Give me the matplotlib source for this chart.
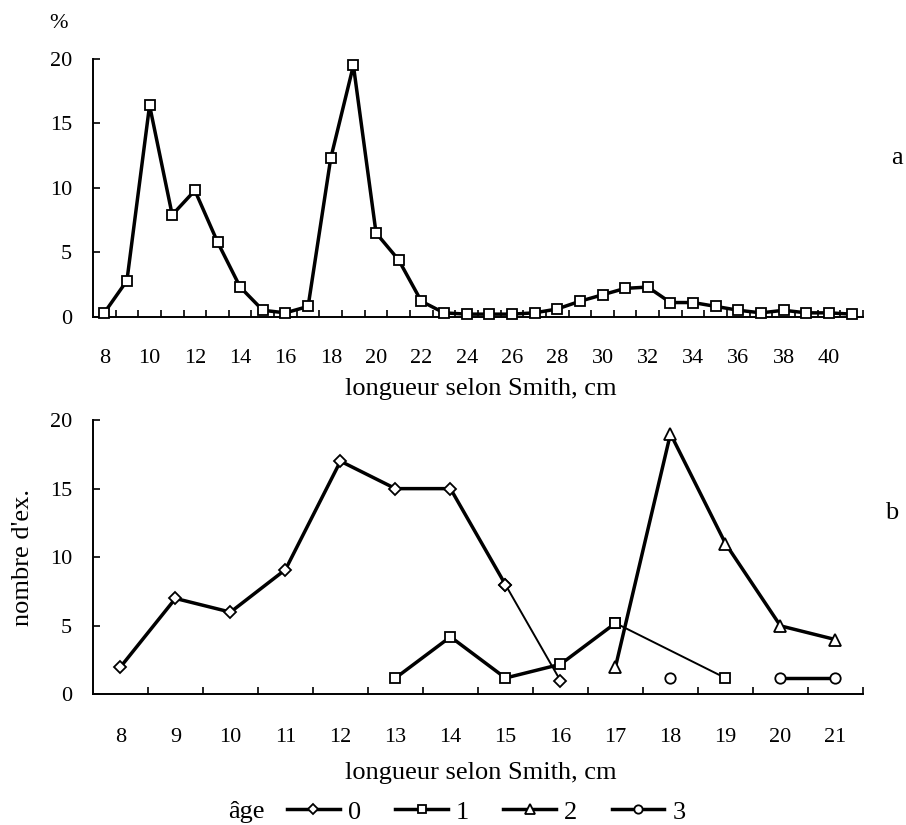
import numpy as np
import matplotlib
matplotlib.use("Agg")
import matplotlib.pyplot as plt

plt.rcParams['font.family'] = ['Liberation Serif', 'DejaVu Serif']

# panel a : distribution en % par classe de longueur
lengths_a = list(range(8, 42))
pct_a = [0.3, 2.8, 16.4, 7.9, 9.8, 5.8, 2.3, 0.5, 0.3, 0.8, 12.3, 19.5, 6.5, 4.4,
         1.2, 0.3, 0.2, 0.2, 0.2, 0.3, 0.6, 1.2, 1.7, 2.2, 2.3, 1.1, 1.1, 0.8,
         0.5, 0.3, 0.5, 0.3, 0.3, 0.2]

# panel b : nombre d'exemplaires par âge
lengths_b = list(range(8, 22))
nan = np.nan
age0 = [2, 7, 6, 9.1, 17, 15, 15, 8, 1, nan, nan, nan, nan, nan]
age1 = [nan, nan, nan, nan, nan, 1.2, 4.2, 1.2, 2.2, 5.2, nan, 1.2, nan, nan]
age2 = [nan, nan, nan, nan, nan, nan, nan, nan, nan, 2, 19, 11, 5, 4]
age3 = [nan, nan, nan, nan, nan, nan, nan, nan, nan, nan, 1.2, nan, 1.2, 1.2]
age_labels = ['0', '1', '2', '3']

TICK_FS = 16
LABEL_FS = 19
LW = 2.5

fig = plt.figure(figsize=(9.06, 8.25), dpi=100)
ax_a = fig.add_axes([0.1026, 0.6161, 0.8499, 0.3124])
ax_b = fig.add_axes([0.1026, 0.1582, 0.8499, 0.3327])


def style_axis(ax, n, labels, xpad):
    for s in ['top', 'right']:
        ax.spines[s].set_visible(False)
    for s in ['left', 'bottom']:
        ax.spines[s].set_linewidth(1.4)
    ax.set_xlim(0, n)
    ax.set_ylim(0, 20)
    ax.set_yticks([0, 5, 10, 15, 20])
    ax.tick_params(axis='y', direction='in', length=5, width=1.2, pad=15,
                   labelsize=TICK_FS)
    # ticks between categories, labels at centers
    ax.set_xticks(np.arange(1, n + 1))
    ax.set_xticklabels([])
    ax.tick_params(axis='x', which='major', direction='in', length=5, width=1.2)
    ax.set_xticks(np.arange(n) + 0.5, minor=True)
    ax.set_xticklabels(labels, minor=True)
    ax.tick_params(axis='x', which='minor', length=0, pad=xpad, labelsize=TICK_FS)


xa = np.arange(len(lengths_a)) + 0.5
ax_a.plot(xa, pct_a, color='black', lw=LW, marker='s', ms=6.5, mfc='white',
          mec='black', mew=1.3, clip_on=False, zorder=3)
style_axis(ax_a, len(lengths_a),
           [str(v) if v % 2 == 0 else '' for v in lengths_a], 23)

xb = np.arange(len(lengths_b)) + 0.5


def draw(ax, y, marker, ms, label, thin_from=None):
    y = np.array(y, dtype=float)
    ok = ~np.isnan(y)
    xs, ys = xb[ok], y[ok]
    kw = dict(color='black', marker=marker, ms=ms, mfc='white', mec='black',
              mew=1.3, clip_on=False, zorder=3)
    if thin_from is None:
        # no line across gaps
        h, = ax.plot(xb, y, lw=LW, label=label, **kw)
    else:
        h, = ax.plot(xs[:thin_from + 1], ys[:thin_from + 1], lw=LW, label=label, **kw)
        ax.plot(xs[thin_from:], ys[thin_from:], lw=1.4, **kw)
    return h


h0 = draw(ax_b, age0, 'D', 6, age_labels[0], thin_from=7)
h1 = draw(ax_b, age1, 's', 7, age_labels[1], thin_from=4)
h2 = draw(ax_b, age2, '^', 8.5, age_labels[2])
h3 = draw(ax_b, age3, 'o', 7.5, age_labels[3])
style_axis(ax_b, len(lengths_b), [str(v) for v in lengths_b], 24)
ax_b.set_ylabel("nombre d'ex.", fontsize=LABEL_FS)
ax_b.yaxis.set_label_coords(-0.077, 0.5)

fig.text(0.531, 0.5285, 'longueur selon Smith, cm', ha='center', va='center',
         fontsize=LABEL_FS)
fig.text(0.531, 0.063, 'longueur selon Smith, cm', ha='center', va='center',
         fontsize=LABEL_FS)
fig.text(0.065, 0.972, '%', ha='center', va='center', fontsize=TICK_FS)
fig.text(0.990, 0.8085, 'a', ha='center', va='center', fontsize=LABEL_FS)
fig.text(0.9845, 0.378, 'b', ha='center', va='center', fontsize=LABEL_FS)

fig.text(0.2715, 0.0158, 'âge', ha='center', va='center', fontsize=LABEL_FS)
fig.legend(handles=[h0, h1, h2, h3], loc='center left',
           bbox_to_anchor=(287 / 906, 0.0158), ncol=4, frameon=False,
           fontsize=LABEL_FS, handlelength=2.0, handletextpad=0.3,
           columnspacing=1.3, borderpad=0, borderaxespad=0, markerscale=0.8)

fig.savefig('out.png', dpi=100)
